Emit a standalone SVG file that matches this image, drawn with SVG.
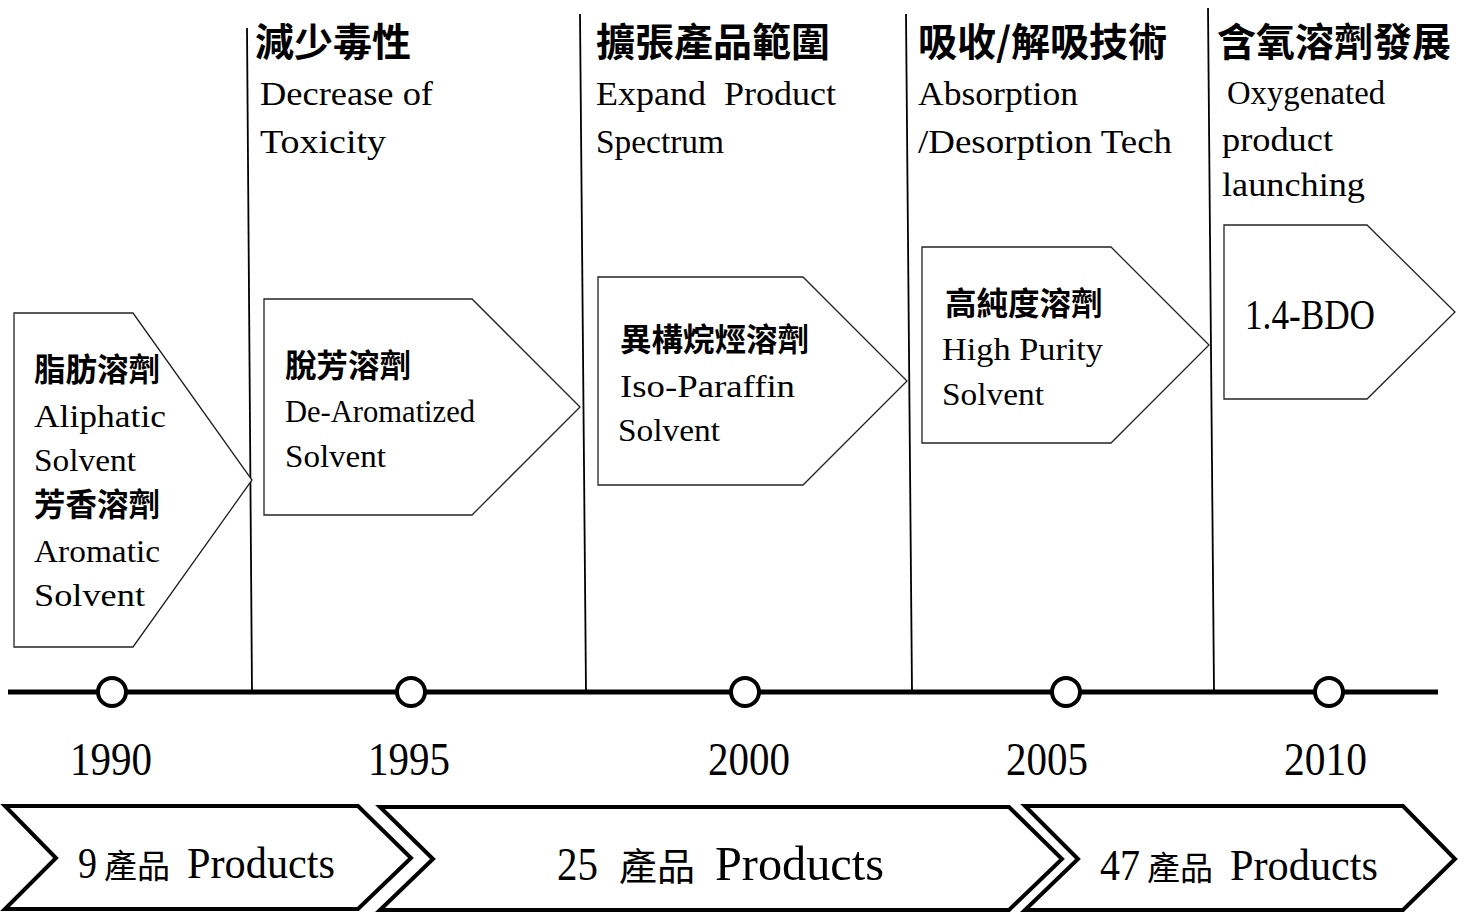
<svg xmlns="http://www.w3.org/2000/svg" width="1469" height="913" viewBox="0 0 1469 913">
<style>
.bg{fill:#fff}
.pent{fill:#fff;stroke:#222;stroke-width:1.3}
.chev{fill:#fff;stroke:#000;stroke-width:4}
.vline{stroke:#000;stroke-width:1.8;fill:none}
.axis{stroke:#000;stroke-width:5}
.dot{fill:#fff;stroke:#000;stroke-width:4}
.cjkh{font-family:"Noto Sans CJK TC","Noto Sans CJK SC",sans-serif;font-size:39px;font-weight:700;fill:#000}
.cjkb{font-family:"Noto Sans CJK TC","Noto Sans CJK SC",sans-serif;font-size:31.5px;font-weight:700;fill:#000}
.cjkr{font-family:"Noto Sans CJK TC","Noto Sans CJK SC",sans-serif;font-size:33px;font-weight:400;fill:#000}
.lat{font-family:"Liberation Serif",serif;font-size:32px;fill:#000}
.lath{font-family:"Liberation Serif",serif;font-size:34px;fill:#000}
.year{font-family:"Liberation Serif",serif;font-size:47px;fill:#000}
.prod{font-family:"Liberation Serif",serif;font-size:44px;fill:#000}
</style>
<rect class="bg" width="1469" height="913"/>

<g id="connectors">
<line class="vline" x1="247" y1="28" x2="252" y2="692"/>
<line class="vline" x1="580" y1="14" x2="586" y2="692"/>
<line class="vline" x1="906" y1="14" x2="912" y2="692"/>
<line class="vline" x1="1208" y1="8" x2="1214" y2="692"/>
<line class="axis" x1="8" y1="692" x2="1438" y2="692"/>
</g>

<g id="dot1990"><circle class="dot" cx="112" cy="692" r="14"/></g>
<g id="dot1995"><circle class="dot" cx="411" cy="692" r="14"/></g>
<g id="dot2000"><circle class="dot" cx="745" cy="692" r="14"/></g>
<g id="dot2005"><circle class="dot" cx="1066" cy="692" r="14"/></g>
<g id="dot2010"><circle class="dot" cx="1329" cy="692" r="14"/></g>

<g id="year1990"><text class="year" x="70" y="775" textLength="82" lengthAdjust="spacingAndGlyphs">1990</text></g>
<g id="year1995"><text class="year" x="368" y="775" textLength="82" lengthAdjust="spacingAndGlyphs">1995</text></g>
<g id="year2000"><text class="year" x="708" y="775" textLength="82" lengthAdjust="spacingAndGlyphs">2000</text></g>
<g id="year2005"><text class="year" x="1006" y="775" textLength="82" lengthAdjust="spacingAndGlyphs">2005</text></g>
<g id="year2010"><text class="year" x="1284" y="775" textLength="83" lengthAdjust="spacingAndGlyphs">2010</text></g>

<g id="head1">
<text class="cjkh" x="255" y="56">減少毒性</text>
<text class="lath" x="260" y="105" textLength="173" lengthAdjust="spacingAndGlyphs">Decrease of</text>
<text class="lath" x="260" y="153" textLength="126" lengthAdjust="spacingAndGlyphs">Toxicity</text>
</g>
<g id="head2">
<text class="cjkh" x="596" y="56">擴張產品範圍</text>
<text class="lath" x="596" y="105" textLength="240" lengthAdjust="spacingAndGlyphs" xml:space="preserve">Expand  Product</text>
<text class="lath" x="596" y="153" textLength="128" lengthAdjust="spacingAndGlyphs">Spectrum</text>
</g>
<g id="head3">
<text class="cjkh" x="918" y="56">吸收/解吸技術</text>
<text class="lath" x="918" y="105" textLength="160" lengthAdjust="spacingAndGlyphs">Absorption</text>
<text class="lath" x="918" y="153" textLength="254" lengthAdjust="spacingAndGlyphs">/Desorption Tech</text>
</g>
<g id="head4">
<text class="cjkh" x="1217" y="56">含氧溶劑發展</text>
<text class="lath" x="1227" y="104" textLength="158" lengthAdjust="spacingAndGlyphs">Oxygenated</text>
<text class="lath" x="1222" y="151" textLength="111" lengthAdjust="spacingAndGlyphs">product</text>
<text class="lath" x="1222" y="196" textLength="143" lengthAdjust="spacingAndGlyphs">launching</text>
</g>

<g id="box1">
<polygon class="pent" points="14,313 133,313 252,480 133,647 14,647"/>
<text class="cjkb" x="34" y="381">脂肪溶劑</text>
<text class="lat" x="34" y="427" textLength="132" lengthAdjust="spacingAndGlyphs">Aliphatic</text>
<text class="lat" x="34" y="471" textLength="102" lengthAdjust="spacingAndGlyphs">Solvent</text>
<text class="cjkb" x="34" y="516">芳香溶劑</text>
<text class="lat" x="34" y="562" textLength="126" lengthAdjust="spacingAndGlyphs">Aromatic</text>
<text class="lat" x="34" y="606" textLength="111" lengthAdjust="spacingAndGlyphs">Solvent</text>
</g>
<g id="box2">
<polygon class="pent" points="264,299 472,299 580,407 472,515 264,515"/>
<text class="cjkb" x="285" y="377">脫芳溶劑</text>
<text class="lat" x="285" y="422" textLength="190" lengthAdjust="spacingAndGlyphs">De-Aromatized</text>
<text class="lat" x="285" y="467" textLength="101" lengthAdjust="spacingAndGlyphs">Solvent</text>
</g>
<g id="box3">
<polygon class="pent" points="598,277 803,277 907,381 803,485 598,485"/>
<text class="cjkb" x="620" y="351">異構烷烴溶劑</text>
<text class="lat" x="620" y="397" textLength="175" lengthAdjust="spacingAndGlyphs">Iso-Paraffin</text>
<text class="lat" x="618" y="441" textLength="102" lengthAdjust="spacingAndGlyphs">Solvent</text>
</g>
<g id="box4">
<polygon class="pent" points="922,247 1111,247 1209,345 1111,443 922,443"/>
<text class="cjkb" x="945" y="315">高純度溶劑</text>
<text class="lat" x="942" y="360" textLength="161" lengthAdjust="spacingAndGlyphs">High Purity</text>
<text class="lat" x="942" y="405" textLength="102" lengthAdjust="spacingAndGlyphs">Solvent</text>
</g>
<g id="box5">
<polygon class="pent" points="1224,225 1367,225 1455,312 1367,399 1224,399"/>
<text class="lath" x="1245" y="329" style="font-size:43px" textLength="130" lengthAdjust="spacingAndGlyphs">1.4-BDO</text>
</g>

<g id="period1">
<polygon class="chev" points="5,806 358,806 411,858 358,909 5,909 56,858"/>
<text class="prod" x="78" y="878" textLength="19" lengthAdjust="spacingAndGlyphs">9</text>
<text class="cjkr" x="104" y="878">產品</text>
<text class="prod" x="187" y="878" textLength="148" lengthAdjust="spacingAndGlyphs">Products</text>
</g>
<g id="period2">
<polygon class="chev" points="380,807 1009,807 1062,859 1009,910 380,910 433,859"/>
<text class="prod" x="557" y="880" style="font-size:47px" textLength="41" lengthAdjust="spacingAndGlyphs">25</text>
<text class="cjkr" x="619" y="880" style="font-size:38px">產品</text>
<text class="prod" x="715" y="880" style="font-size:48px" textLength="169" lengthAdjust="spacingAndGlyphs">Products</text>
</g>
<g id="period3">
<polygon class="chev" points="1025,806 1403,806 1455,859 1403,910 1025,910 1078,859"/>
<text class="prod" x="1100" y="880" textLength="40" lengthAdjust="spacingAndGlyphs">47</text>
<text class="cjkr" x="1147" y="880">產品</text>
<text class="prod" x="1230" y="880" textLength="148" lengthAdjust="spacingAndGlyphs">Products</text>
</g>
</svg>
